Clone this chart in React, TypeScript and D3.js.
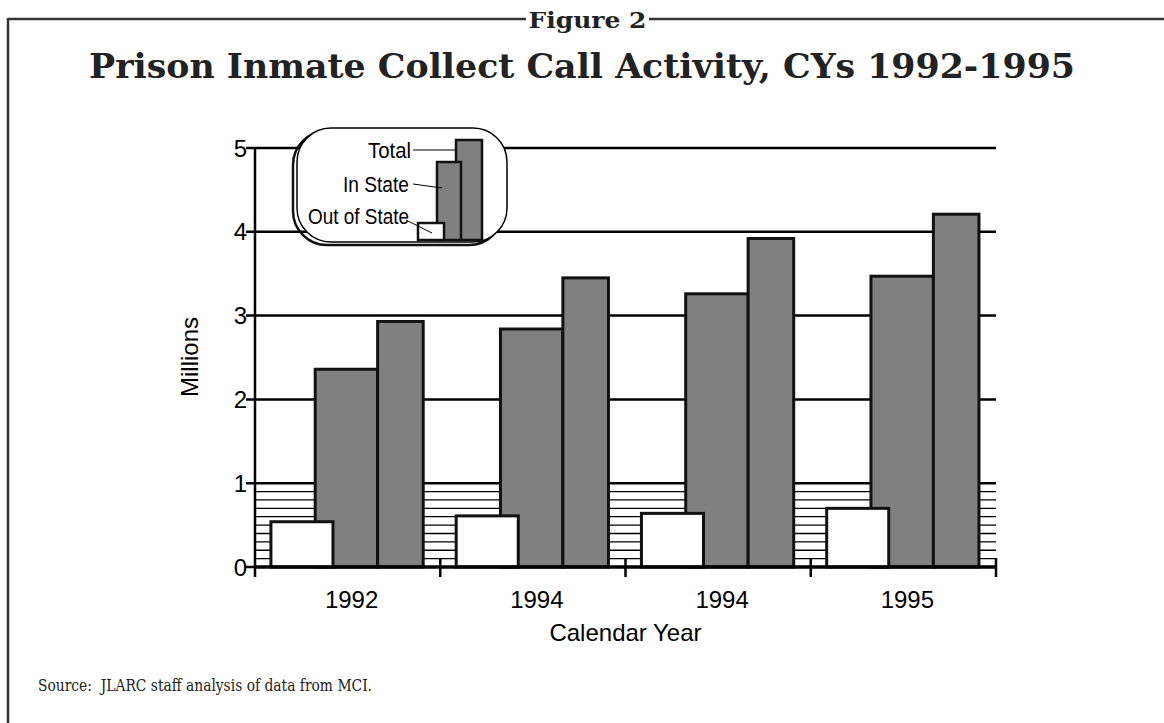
import React from "react";
import * as d3 from "d3";

const years = ["1992", "1994", "1994", "1995"];
const outOfState = [0.54, 0.61, 0.64, 0.7];
const inState = [2.36, 2.84, 3.26, 3.47];
const totals = [2.93, 3.45, 3.92, 4.21];
const yTicks = [0, 1, 2, 3, 4, 5];
const hatchLevels = [0.1, 0.2, 0.3, 0.4, 0.5, 0.6, 0.7, 0.8, 0.9];
const legendLabels = ["Total", "In State", "Out of State"];

const W = 1164;
const H = 723;
const SANS = "'Liberation Sans', Arial, sans-serif";
const SERIF = "'DejaVu Serif', serif";

export default function App() {
  const x = d3.scaleBand<number>().domain(years.map((_, i) => i)).range([255, 996]);
  const y = d3.scaleLinear().domain([0, 5]).range([567, 148]);
  const bw = x.bandwidth();
  const sub = {
    out: { x0: 0.086, w: 0.335 },
    inS: { x0: 0.325, w: 0.337 },
    tot: { x0: 0.662, w: 0.246 },
  };
  const [x0, x1] = x.range();
  const boundaries = years.map((_, i) => (x(i) as number) + bw);

  return (
    <svg
      width={W}
      height={H}
      style={{ position: "absolute", left: 0, top: 0, background: "#fff" }}
    >
      {/* Frame */}
      <g stroke="#333" strokeWidth={2.5} fill="none">
        <line x1={8} y1={19} x2={526} y2={19} />
        <line x1={649} y1={19} x2={W} y2={19} />
        <line x1={8} y1={18} x2={8} y2={H} />
      </g>
      <text
        x={587.5}
        y={28}
        textAnchor="middle"
        fontFamily={SERIF}
        fontWeight="bold"
        fontSize={22}
        textLength={118}
        lengthAdjust="spacingAndGlyphs"
        fill="#222"
      >
        Figure 2
      </text>
      <text
        x={582}
        y={78}
        textAnchor="middle"
        fontFamily={SERIF}
        fontWeight="bold"
        fontSize={34}
        textLength={986}
        lengthAdjust="spacingAndGlyphs"
        fill="#222"
      >
        Prison Inmate Collect Call Activity, CYs 1992-1995
      </text>

      {/* Hatch lines */}
      <g stroke="#000" strokeWidth={1.3}>
        {hatchLevels.map((v) => (
          <line key={v} x1={x0} x2={x1} y1={y(v)} y2={y(v)} />
        ))}
      </g>
      {/* Gridlines + y ticks */}
      <g stroke="#000" strokeWidth={2.5}>
        {yTicks.filter((t) => t > 0).map((t) => (
          <line key={t} x1={x0 - 9} x2={x1} y1={y(t)} y2={y(t)} />
        ))}
        <line x1={x0 - 9} x2={x0} y1={y(0)} y2={y(0)} />
      </g>
      {yTicks.map((t) => (
        <text
          key={t}
          x={247}
          y={y(t)}
          dy="0.36em"
          textAnchor="end"
          fontFamily={SANS}
          fontSize={24}
          fill="#000"
        >
          {t}
        </text>
      ))}

      {/* Bars */}
      {years.map((_, i) => {
        const bx = x(i) as number;
        return (
          <g key={i} stroke="#111" strokeWidth={3}>
            <rect
              x={bx + sub.inS.x0 * bw}
              y={y(inState[i])}
              width={sub.inS.w * bw}
              height={y(0) - y(inState[i])}
              fill="#808080"
            />
            <rect
              x={bx + sub.tot.x0 * bw}
              y={y(totals[i])}
              width={sub.tot.w * bw}
              height={y(0) - y(totals[i])}
              fill="#808080"
            />
            <rect
              x={bx + sub.out.x0 * bw}
              y={y(outOfState[i])}
              width={sub.out.w * bw}
              height={y(0) - y(outOfState[i])}
              fill="#fff"
            />
          </g>
        );
      })}

      {/* Axes */}
      <g stroke="#000" strokeWidth={2.5}>
        <line x1={x0} x2={x0} y1={y(5) - 1} y2={577} />
        <line x1={x0} x2={x1} y1={y(0)} y2={y(0)} strokeWidth={3.5} />
        {boundaries.map((b, i) => (
          <line key={i} x1={b} x2={b} y1={558} y2={577} />
        ))}
      </g>
      {years.map((yr, i) => (
        <text
          key={i}
          x={(x(i) as number) + bw / 2 + 4}
          y={608}
          textAnchor="middle"
          fontFamily={SANS}
          fontSize={24}
          fill="#000"
        >
          {yr}
        </text>
      ))}
      <text
        x={(x0 + x1) / 2}
        y={641}
        textAnchor="middle"
        fontFamily={SANS}
        fontSize={24}
        fill="#000"
      >
        Calendar Year
      </text>
      <text
        transform={`translate(198,357) rotate(-90)`}
        textAnchor="middle"
        fontFamily={SANS}
        fontSize={24}
        fill="#000"
      >
        Millions
      </text>

      {/* Legend */}
      <g>
        <rect
          x={293}
          y={131}
          width={210}
          height={114}
          rx={34}
          ry={34}
          fill="none"
          stroke="#111"
          strokeWidth={2.5}
        />
        <rect
          x={297}
          y={128}
          width={210}
          height={114}
          rx={34}
          ry={34}
          fill="#fff"
          stroke="#000"
          strokeWidth={1.5}
        />
        <g stroke="#111" strokeWidth={2.5}>
          <rect x={456} y={140} width={26} height={100} fill="#808080" />
          <rect x={437} y={162} width={24} height={78} fill="#808080" />
          <rect x={418} y={223} width={26} height={17} fill="#fff" />
        </g>
        <g stroke="#000" strokeWidth={1}>
          <line x1={413} y1={150} x2={455} y2={150} />
          <line x1={413} y1={184} x2={442} y2={188} />
          <line x1={406} y1={220} x2={432} y2={233} />
        </g>
        <g fontFamily={SANS} fontSize={22} fill="#000" textAnchor="end">
          <text x={411} y={158} textLength={43} lengthAdjust="spacingAndGlyphs">{legendLabels[0]}</text>
          <text x={409} y={192} textLength={66} lengthAdjust="spacingAndGlyphs">{legendLabels[1]}</text>
          <text x={409} y={224} textLength={101} lengthAdjust="spacingAndGlyphs">{legendLabels[2]}</text>
        </g>
      </g>

      <text
        x={38}
        y={691}
        fontFamily={SERIF}
        fontSize={17}
        textLength={334}
        lengthAdjust="spacingAndGlyphs"
        fill="#222"
      >
        {"Source:\u00a0 JLARC staff analysis of data from MCI."}
      </text>
    </svg>
  );
}
